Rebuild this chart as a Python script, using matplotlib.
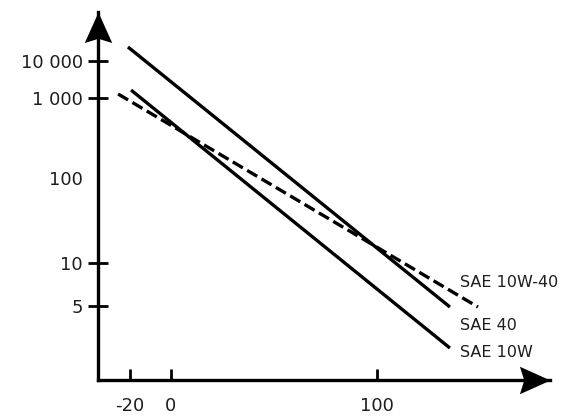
import numpy as np
import matplotlib
matplotlib.use('Agg')
import matplotlib.pyplot as plt
from matplotlib.path import Path

# temperature (deg C) and viscosity at the two ends of each line
oil_names = ['SAE 40', 'SAE 10W', 'SAE 10W-40']
temp_start = [-20.9, -19.4, -25.7]
temp_end = [135.4, 135.4, 149.0]
visc_start = [23900, 1640, 1283]
visc_end = [4.92, 2.54, 4.92]
line_styles = ['-', '-', (0, (3.5, 1.5))]

x_ticks = [-20, 0, 100]
y_ticks = [5, 10, 100, 1000, 10000]
y_labels = ['5', '10', '100', '1 000', '10 000']

# the drawing is a sketch: the decades are not evenly spaced, so build a
# piecewise log scale that follows the spacing of the printed ticks
kl = np.log10(np.array(y_ticks, dtype=float))
kp = np.array([-306.0, -263.0, -178.0, -98.0, -61.0])
s_lo = (kp[1] - kp[0]) / (kl[1] - kl[0])
s_hi = (kp[-1] - kp[-2]) / (kl[-1] - kl[-2])


def fwd(v):
    v = np.asarray(v, dtype=float)
    l = np.log10(np.maximum(v, 1e-9))
    out = np.interp(l, kl, kp)
    out = np.where(l < kl[0], kp[0] + (l - kl[0]) * s_lo, out)
    out = np.where(l > kl[-1], kp[-1] + (l - kl[-1]) * s_hi, out)
    return out


def inv(p):
    p = np.asarray(p, dtype=float)
    l = np.interp(p, kp, kl)
    l = np.where(p < kp[0], kl[0] + (p - kp[0]) / s_lo, l)
    l = np.where(p > kp[-1], kl[-1] + (p - kp[-1]) / s_hi, l)
    return 10 ** l


W, H = 577, 418
fig = plt.figure(figsize=(W / 100, H / 100), dpi=100)
ax = fig.add_axes([98 / W, (H - 380) / H, (550 - 98) / W, (380 - 12) / H])
ax.set_yscale('function', functions=(fwd, inv))
ax.set_xlim((98 - 171) / 2.06, (550 - 171) / 2.06)
ax.set_ylim(float(inv(-380.0)), float(inv(-12.0)))

for i, name in enumerate(oil_names):
    ax.plot([temp_start[i], temp_end[i]], [visc_start[i], visc_end[i]],
            color='black', lw=2.4, linestyle=line_styles[i],
            solid_capstyle='butt', clip_on=False)

label_offsets = [(7, -13), (7, -3), (-13, 18)]
for i, name in enumerate(oil_names):
    ax.annotate(name, xy=(temp_end[i], visc_end[i]), xytext=label_offsets[i],
                textcoords='offset points', fontsize=11.5, color='#1e1e1e',
                ha='left', va='center')

ax.spines['top'].set_visible(False)
ax.spines['right'].set_visible(False)
for s in ['left', 'bottom']:
    ax.spines[s].set_linewidth(2.4)

# arrow heads with a slightly notched back, tip on the end of each axis
head_right = Path([(0, 0), (-1, 0.45), (-0.86, 0), (-1, -0.45), (0, 0)],
                  [Path.MOVETO, Path.LINETO, Path.LINETO, Path.LINETO, Path.CLOSEPOLY])
head_up = Path([(0, 0), (0.45, -1), (0, -0.86), (-0.45, -1), (0, 0)],
               [Path.MOVETO, Path.LINETO, Path.LINETO, Path.LINETO, Path.CLOSEPOLY])
ax.plot([1], [0], transform=ax.transAxes, marker=head_right, markersize=44,
        color='black', markeredgewidth=0, clip_on=False)
ax.plot([0], [1], transform=ax.transAxes, marker=head_up, markersize=44,
        color='black', markeredgewidth=0, clip_on=False)

ax.set_xticks(x_ticks)
ax.set_xticklabels([str(t) for t in x_ticks])
ax.set_yticks(y_ticks)
ax.set_yticklabels(y_labels)
ax.yaxis.set_minor_locator(matplotlib.ticker.NullLocator())
ax.xaxis.set_minor_locator(matplotlib.ticker.NullLocator())
ax.tick_params(axis='x', direction='in', length=8, width=2, pad=12,
               labelsize=13, labelcolor='#1e1e1e')
ax.tick_params(axis='y', direction='inout', length=14, width=2, pad=4,
               labelsize=13, labelcolor='#1e1e1e')
ax.yaxis.get_major_ticks()[2].tick1line.set_visible(False)

fig.savefig('out.png', dpi=100)
